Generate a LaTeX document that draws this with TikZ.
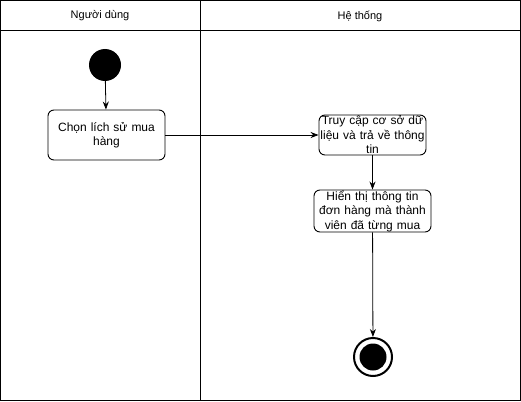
\documentclass[tikz,border=0pt]{standalone}
\usepackage{fontspec}
\setmainfont{Liberation Sans}
\usetikzlibrary{arrows.meta}

\begin{document}
\begin{tikzpicture}[x=1pt,y=-1pt,>={Stealth[length=8pt,width=6pt]},
  action/.style={draw,line width=0.9pt,rounded corners=6pt,inner sep=0pt,align=center,
    font=\fontsize{12}{14.5}\selectfont},
  flow/.style={->,line width=0.8pt}]
 \useasboundingbox (0,0) rectangle (521,401);
 % swimlanes
 \draw[line width=0.8pt] (0.5,0.5) rectangle (520.5,400.5);
 \draw[line width=0.8pt] (0.5,30.5) -- (520.5,30.5);
 \draw[line width=0.8pt] (200.5,0.5) -- (200.5,400.5);
 \node[font=\fontsize{11}{13}\selectfont] (user) at (100,16) {Người dùng};
 \node[font=\fontsize{11}{13}\selectfont] (sys) at (360,16) {Hệ thống};
 % states
 \node[circle,fill=black,minimum size=32pt,inner sep=0pt] (start) at (105,65) {};
 \node[action,minimum width=117pt,minimum height=50pt,text width=117pt] (choose) at (106.5,135) {Chọn lích sử mua\\hàng};
 \node[action,minimum width=107pt,minimum height=40pt,text width=112pt,inner xsep=-2.5pt] (query) at (372.5,135) {Truy cập cơ sở dữ\\liệu và trả về thông\\tin};
 \node[action,minimum width=117pt,minimum height=42pt,text width=117pt] (show) at (372.5,211) {Hiển thị thông tin\\đơn hàng mà thành\\viên đã từng mua};
 \node[circle,draw,line width=2pt,minimum size=38pt,inner sep=0pt] (end) at (373,357) {};
 \fill (end.center) circle (13.5pt);
 % transitions
 \draw[flow] (start) -- (choose);
 \draw[flow] (choose) -- (query);
 \draw[flow] (query) -- (show);
 \draw[flow] (show) -- (end);
\end{tikzpicture}
\end{document}
